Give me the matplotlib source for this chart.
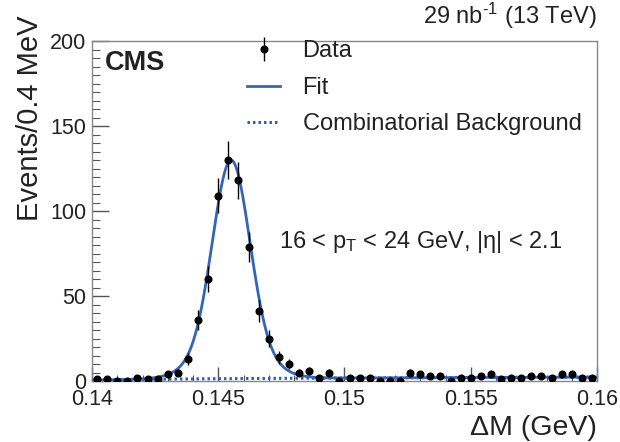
import numpy as np
import matplotlib
matplotlib.use("Agg")
import matplotlib.pyplot as plt
from matplotlib.ticker import MultipleLocator, FixedLocator

plt.rcParams['font.family'] = ['Liberation Sans', 'DejaVu Sans']
plt.rcParams['mathtext.fontset'] = 'custom'
plt.rcParams['mathtext.rm'] = 'Liberation Sans'
plt.rcParams['mathtext.it'] = 'Liberation Sans:italic'

# Histogram: 50 bins of 0.4 MeV from 0.140 to 0.160 GeV
bin_lo = 0.140
bin_hi = 0.160
counts = [1, 1, 0, 0, 2, 1, 1, 4, 5, 13,
          36, 60, 109, 130, 118, 79, 41, 25, 14, 10,
          5, 6, 2, 5, 0, 2, 2, 2, 0, 0,
          0, 5, 4, 3, 3, 0, 2, 2, 3, 4,
          1, 2, 2, 3, 3, 2, 4, 4, 2, 2]

# Fit model parameters (signal: double Gaussian, background: threshold power law)
m_pi = 0.13957
fit_mean = 0.14551
core_amp, core_sigma = 106.5, 0.00072
wide_amp, wide_sigma = 22.0, 0.00120
bkg_norm, bkg_power = 2.3, 0.4   # value at 0.160 GeV, exponent

xticks = [0.14, 0.145, 0.15, 0.155, 0.16]
xticklabels = ["0.14", "0.145", "0.15", "0.155", "0.16"]
yticks = [0, 50, 100, 150, 200]

counts = np.array(counts, dtype=float)
nb = len(counts)
edges = np.linspace(bin_lo, bin_hi, nb + 1)
centers = 0.5 * (edges[:-1] + edges[1:])
err = np.sqrt(counts)

def bkg(x):
    return bkg_norm * np.clip((x - m_pi) / (bin_hi - m_pi), 0, None) ** bkg_power

def fit(x):
    sig = (core_amp * np.exp(-0.5 * ((x - fit_mean) / core_sigma) ** 2)
           + wide_amp * np.exp(-0.5 * ((x - fit_mean) / wide_sigma) ** 2))
    return sig + bkg(x)

fig = plt.figure(figsize=(6.2, 4.42), dpi=100)
ax = fig.add_axes([92/620, 1 - 381/442, (597-92)/620, (381-41)/442])

blue = '#3465b8'
xs = np.linspace(bin_lo, bin_hi, 800)
ax.plot(xs, bkg(xs), color='#2f5fb0', lw=2.2, ls=(0, (0.8, 1.0)),
        label='Combinatorial Background', zorder=2)
ax.plot(xs, fit(xs), color=blue, lw=2.0, label='Fit', zorder=3)
ax.errorbar(centers, counts, yerr=err, fmt='o', color='black', ms=4.8,
            elinewidth=1.0, capsize=0, label='Data', zorder=4)

ax.set_xlim(bin_lo, bin_hi)
ax.set_ylim(0, 200)
ax.xaxis.set_major_locator(FixedLocator(xticks))
ax.set_xticks(xticks)
ax.set_xticklabels(xticklabels)
ax.xaxis.set_minor_locator(MultipleLocator(0.001))
ax.set_yticks(yticks)
ax.yaxis.set_minor_locator(MultipleLocator(5))

for s in ax.spines.values():
    s.set_color('#888888')
    s.set_linewidth(1.0)
ax.tick_params(which='both', direction='in', colors='#555555', labelcolor='#222222',
               labelsize=15.5, top=False, right=False)
ax.tick_params(axis='y', which='major', length=12, width=1.0, pad=4)
ax.tick_params(axis='y', which='minor', length=6, width=0.8)
ax.tick_params(axis='x', which='major', length=10, width=1.0)
ax.tick_params(axis='x', which='minor', length=4, width=0.8)
ax.tick_params(axis='x', pad=6)

ax.set_ylabel('Events/0.4 MeV', fontsize=21, loc='top', color='#222222')
ax.set_xlabel('ΔM (GeV)', fontsize=20.5, loc='right', color='#222222')
ax.yaxis.set_label_coords(-0.095, 1.075)
ax.xaxis.set_label_coords(1.0, -0.1)
ax.xaxis.label.set_va('top')

ax.text(1.0, 1.03, r'29 nb$^{\text{-1}}$ (13 TeV)', transform=ax.transAxes,
        ha='right', va='bottom', fontsize=17, color='#222222')
ax.text(0.025, 0.975, 'CMS', transform=ax.transAxes, ha='left', va='top',
        fontsize=19.5, fontweight='bold', color='#222222')
ax.text(0.37, 0.37, r'16 < p$_{\mathrm{T}}$ < 24 GeV, |η| < 2.1',
        transform=ax.transAxes, ha='left', va='bottom', fontsize=17, color='#222222')

h, l = ax.get_legend_handles_labels()
order = [2, 1, 0]
leg = ax.legend([h[i] for i in order], [l[i] for i in order], loc='upper left',
                bbox_to_anchor=(0.265, 1.065), frameon=False, fontsize=17,
                handlelength=1.4, labelspacing=0.62, handletextpad=0.95)
for t in leg.get_texts():
    t.set_color('#222222')

fig.savefig('out.png', dpi=100)
